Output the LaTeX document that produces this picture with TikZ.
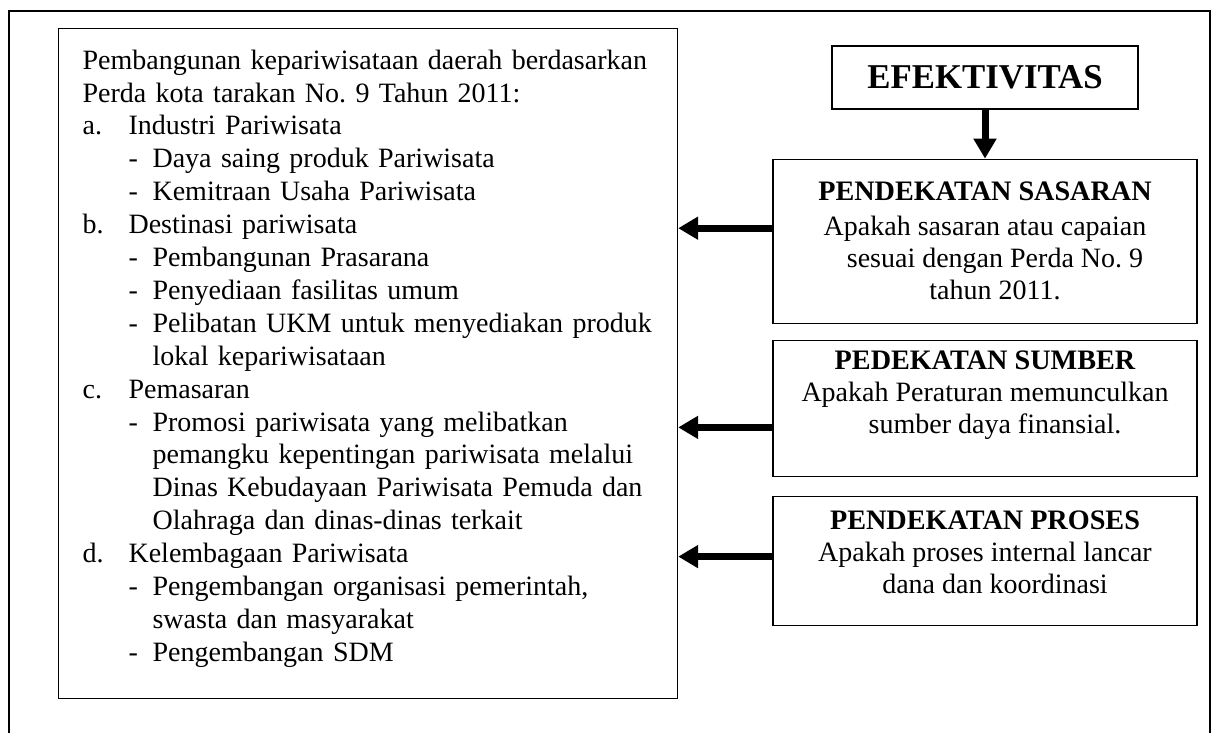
\documentclass[tikz,border=0pt]{standalone}
\usepackage{fontspec}
\setmainfont{Liberation Serif}
\usetikzlibrary{positioning,arrows.meta}

\newcommand{\lbl}[1]{\makebox[23pt][l]{#1}}
\newcommand{\dsh}{\hspace*{23pt}\makebox[12pt][l]{-}}
\newcommand{\cnt}{\hspace*{35pt}}
\newcommand{\ttl}[1]{{\fontsize{14.1}{16}\selectfont\bfseries #1}}

\begin{document}
\frenchspacing
\begin{tikzpicture}[x=0.5pt,y=-0.5pt,
      frame/.style={line width=1pt},
      box/.style={rectangle,draw,line width=0.6pt,align=center,minimum width=212pt,font=\fontsize{14}{16}\selectfont},
      listbox/.style={rectangle,draw,line width=0.6pt,align=left,anchor=north west,text width=285.5pt,inner xsep=12pt,minimum height=335pt,font=\fontsize{14}{16.45}\selectfont},
      arr/.style={-{Triangle[length=10pt,width=11pt]},line width=3.5pt}]
      \useasboundingbox (0,0) rectangle (1220,733);
      \draw[frame] (9,745) -- (9,11) -- (1210,11) -- (1210,745);
      \node[listbox] (dasar) at (58,28) {Pembangunan kepariwisataan daerah berdasarkan\\
        Perda kota tarakan No. 9 Tahun 2011:\\
        \lbl{a.}Industri Pariwisata\\
        \dsh Daya saing produk Pariwisata\\
        \dsh Kemitraan Usaha Pariwisata\\
        \lbl{b.}Destinasi pariwisata\\
        \dsh Pembangunan Prasarana\\
        \dsh Penyediaan fasilitas umum\\
        \dsh Pelibatan UKM untuk menyediakan produk\\
        \cnt lokal kepariwisataan\\
        \lbl{c.}Pemasaran\\
        \dsh Promosi pariwisata yang melibatkan\\
        \cnt pemangku kepentingan pariwisata melalui\\
        \cnt Dinas Kebudayaan Pariwisata Pemuda dan\\
        \cnt Olahraga dan dinas-dinas terkait\\
        \lbl{d.}Kelembagaan Pariwisata\\
        \dsh Pengembangan organisasi pemerintah,\\
        \cnt swasta dan masyarakat\\
        \dsh Pengembangan SDM\\[-8.35pt]\mbox{}};
      \node[box,minimum width=153pt,minimum height=31.5pt,font=\fontsize{17.4}{19}\selectfont\bfseries] (efek) at (985,77.5) {EFEKTIVITAS};
      \node[box,minimum height=82pt,below=24.5pt of efek] (sasaran) {\ttl{PENDEKATAN SASARAN}\\[1.5pt]
        Apakah sasaran atau capaian\\
        \hspace*{10pt}sesuai dengan Perda No. 9\\
        \hspace*{10pt}tahun 2011.};
      \node[box,minimum height=68pt,text depth=16pt,below=8pt of sasaran] (sumber) {\ttl{PEDEKATAN SUMBER}\\
        Apakah Peraturan memunculkan\\
        \hspace*{10pt}sumber daya finansial.};
      \node[box,minimum height=64.5pt,text depth=9pt,below=9.5pt of sumber] (proses) {\ttl{PENDEKATAN PROSES}\\
        Apakah proses internal lancar\\
        \hspace*{10pt}dana dan koordinasi};
      \draw[arr] (efek) -- (sasaran);
      \draw[arr] ([yshift=6.5pt]sasaran.west) coordinate (s1) -- (s1 -| dasar.east);
      \draw[arr] ([yshift=-9.5pt]sumber.west) coordinate (s2) -- (s2 -| dasar.east);
      \draw[arr] ([yshift=2.25pt]proses.west) coordinate (s3) -- (s3 -| dasar.east);
    \end{tikzpicture}
\end{document}
